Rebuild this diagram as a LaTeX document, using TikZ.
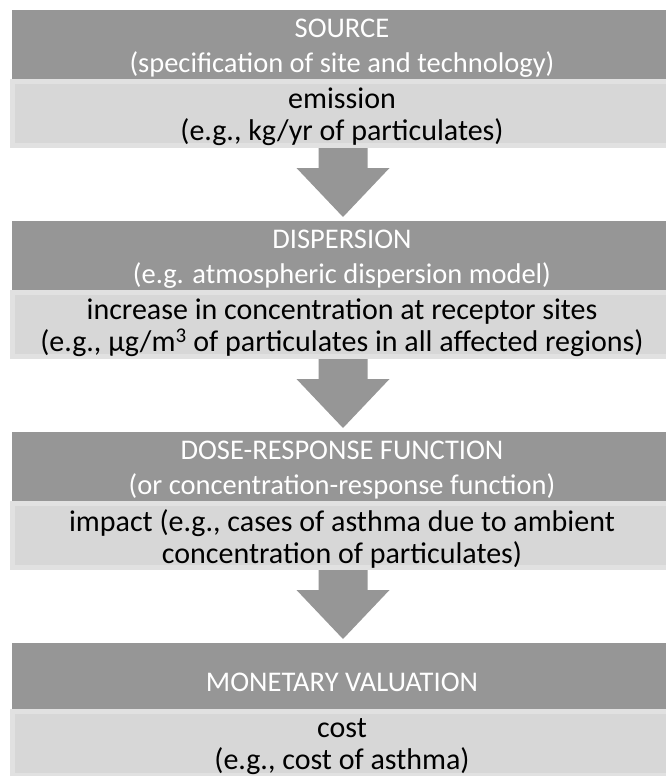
\documentclass[tikz,border=0pt]{standalone}
\usepackage{fontspec}
\setmainfont{Carlito}
\usetikzlibrary{calc}
\definecolor{darkgray}{HTML}{969696}
\definecolor{lightfill}{HTML}{D7D7D7}
\definecolor{lightedge}{HTML}{E1E1E1}
\newcommand\flowarrow[2]{%
  \fill[arrowc] ($(#1.south -| ax)+(-24.5,0)$) -- ($(#2.north -| ax)+(-24.5,-53)$)
    -- ($(#2.north -| ax)+(-46.5,-53)$) -- ($(#2.north -| ax)+(0,-4)$)
    -- ($(#2.north -| ax)+(46.5,-53)$) -- ($(#2.north -| ax)+(24.5,-53)$)
    -- ($(#1.south -| ax)+(24.5,0)$) -- cycle;}
\begin{document}
\begin{tikzpicture}[x=1pt,y=-1pt,
  darkbox/.style={rectangle, fill=darkgray, draw=none, anchor=north west,
    minimum width=660pt, inner sep=0pt, outer sep=0pt},
  lightbox/.style={rectangle, fill=lightfill, draw=lightedge, line width=5pt,
    anchor=north west, minimum width=660pt, inner sep=0pt},
  darktext/.style={text=white, inner sep=0pt, align=center,
    font=\fontsize{28.5}{35}\selectfont},
  lighttext/.style={text=black, inner sep=0pt, align=center,
    font=\fontsize{30}{32}\selectfont},
  arrowc/.style={fill=darkgray}]
\useasboundingbox (0,0) rectangle (665,776);
\fill[white] (0,0) rectangle (665,776);
\coordinate (ax) at (343,0);
% boxes
\node[darkbox, minimum height=69pt] (d1) at (12,10) {};
\node[lightbox, minimum height=64pt] (l1) at (9.5,79) {};
\node[darkbox, minimum height=69pt] (d2) at (12,221) {};
\node[lightbox, minimum height=64pt] (l2) at (9.5,290) {};
\node[darkbox, minimum height=69pt] (d3) at (12,432) {};
\node[lightbox, minimum height=64pt] (l3) at (9.5,501) {};
\node[darkbox, minimum height=66pt] (d4) at (12,643) {};
\node[lightbox, minimum height=64pt] (l4) at (9.5,709) {};
% texts
\node[darktext] (td1) at ($(d1.center)+(0,4)$) {SOURCE\\(specification of site and technology)};
\node[lighttext] (tl1) at ($(l1.center)+(0,3.5)$) {emission\\(e.g., kg/yr of particulates)};
\node[darktext] (td2) at ($(d2.center)+(0,4)$) {DISPERSION\\(e.g. atmospheric dispersion model)};
\node[lighttext] (tl2) at ($(l2.center)+(0,3.5)$) {increase in concentration at receptor sites\\(e.g., µg/m\textsuperscript{3} of particulates in all affected regions)};
\node[darktext] (td3) at ($(d3.center)+(0,4)$) {DOSE-RESPONSE FUNCTION\\(or concentration-response function)};
\node[lighttext] (tl3) at ($(l3.center)+(0,3.5)$) {impact (e.g., cases of asthma due to ambient\\concentration of particulates)};
\node[darktext] (td4) at ($(d4.center)+(0,6)$) {MONETARY VALUATION};
\node[lighttext] (tl4) at ($(l4.center)+(0,3.5)$) {cost\\(e.g., cost of asthma)};
% arrows
\flowarrow{l1}{d2}
\flowarrow{l2}{d3}
\flowarrow{l3}{d4}
\end{tikzpicture}
\end{document}
